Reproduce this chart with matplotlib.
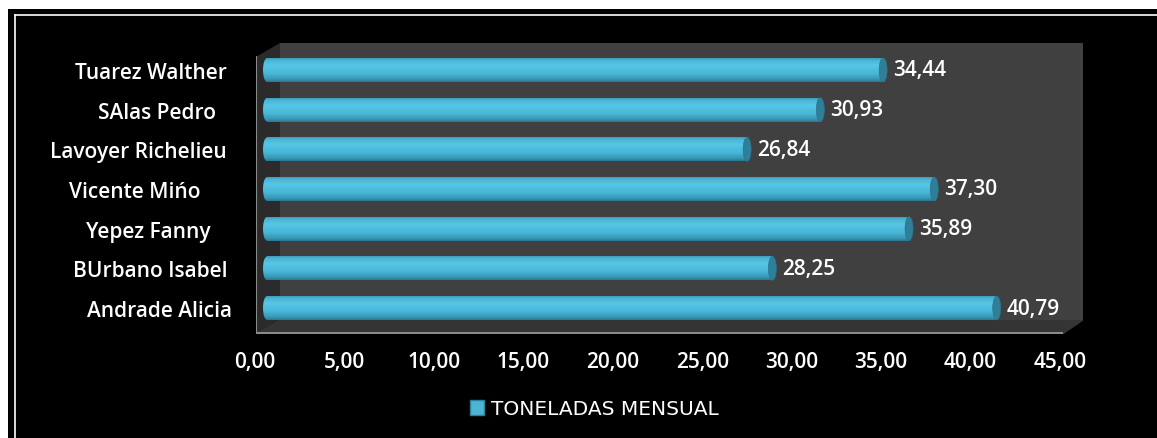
import matplotlib
matplotlib.use("Agg")
import matplotlib.pyplot as plt
import numpy as np
from matplotlib.patches import Rectangle, Polygon, Ellipse, Patch
from matplotlib.colors import LinearSegmentedColormap
from matplotlib.lines import Line2D
import matplotlib.transforms as mtransforms

# ---------------- data ----------------
categories = ["Andrade Alicia", "BUrbano Isabel ", "Yepez Fanny    ", "Vicente Mińo      ",
              "Lavoyer Richelieu ", "SAlas Pedro   ", "Tuarez Walther "]
values = [40.79, 28.25, 35.89, 37.30, 26.84, 30.93, 34.44]
xticks = [0, 5, 10, 15, 20, 25, 30, 35, 40, 45]
xtick_labels = ["0,00", "5,00", "10,00", "15,00", "20,00", "25,00", "30,00", "35,00", "40,00", "45,00"]
series_name = "TONELADAS MENSUAL"

# ---------------- layout ----------------
W, H = 1157, 439
fig = plt.figure(figsize=(W / 100, H / 100), dpi=100)
fig.patch.set_facecolor("white")
plt.rcParams["font.family"] = ["Open Sans", "DejaVu Sans"]
WEIGHT = "semibold"
FS = 15

# black panel with thin white inner border
fig.patches.append(Rectangle((8 / W, -0.01), 1.01, 1 - 10 / H + 0.01, transform=fig.transFigure,
                             facecolor="black", edgecolor="none", zorder=-10))
fig.add_artist(Line2D([15 / W, 15 / W], [0, 1 - 16 / H], color="white", lw=1.2,
                      transform=fig.transFigure))
fig.add_artist(Line2D([15 / W, 1], [1 - 16 / H, 1 - 16 / H], color="white", lw=1.2,
                      transform=fig.transFigure))

AX_L, AX_R, AX_T, AX_B = 256, 1083, 44, 335
ax = fig.add_axes([AX_L / W, 1 - AX_B / H, (AX_R - AX_L) / W, (AX_B - AX_T) / H])
ax.set_facecolor("#404040")
for s in ax.spines.values():
    s.set_visible(False)

scale = 17.89       # px per unit
x0px = 267          # pixel of value 0 (bar start)
spacing = 39.67     # px per category
y_top_bar = 71
y_bot_bar = 309
xlim = ((AX_L - x0px) / scale, (AX_R - x0px) / scale)
ylim = (-(AX_B - y_bot_bar) / spacing, 6 + (y_top_bar - AX_T) / spacing)


def P(x, y):
    return ((x - AX_L) / (AX_R - AX_L), (AX_B - y) / (AX_B - AX_T))


# 3D-ish walls
ax.add_patch(Polygon([P(256, 58), P(280, 44), P(280, 321), P(256, 335)], closed=True,
                     transform=ax.transAxes, facecolor="#2b2b2b", edgecolor="none", zorder=1))
ax.add_patch(Polygon([P(256, 44), P(280, 44), P(256, 58)], closed=True,
                     transform=ax.transAxes, facecolor="black", edgecolor="none", zorder=1))
ax.add_patch(Polygon([P(256, 335), P(280, 321), P(1083, 321), P(1062, 335)], closed=True,
                     transform=ax.transAxes, facecolor="#343434", edgecolor="none", zorder=1))
ax.add_patch(Polygon([P(1062, 335.5), P(1083.5, 335.5), P(1083.5, 321)], closed=True,
                     transform=ax.transAxes, facecolor="black", edgecolor="none", zorder=1))
ax.add_line(Line2D([P(256, 58)[0], P(256, 335)[0]], [P(256, 58)[1], P(256, 335)[1]],
                   transform=ax.transAxes, color="#8a8a8a", lw=1.5, zorder=2))
ax.add_line(Line2D([P(256, 334)[0], P(1062, 334)[0]], [P(256, 334)[1], P(1062, 334)[1]],
                   transform=ax.transAxes, color="#8a8a8a", lw=1.5, zorder=2))

# ---------------- bars ----------------
bar_h = 0.6
ypos = np.arange(len(categories))
bars = ax.barh(ypos, values, height=bar_h, left=0, color="#4bbddd", label=series_name,
               zorder=3, edgecolor="none")

grad_cmap = LinearSegmentedColormap.from_list(
    "cyl", [(0.0, "#2a7893"), (0.12, "#3a98b6"), (0.35, "#48b6d6"),
            (0.7, "#58c6e6"), (0.9, "#4cb6d6"), (1.0, "#3c9ebd")])
grad = np.linspace(0, 1, 64).reshape(-1, 1)
capw = 8 / scale

for b, v, y in zip(bars, values, ypos):
    b.set_alpha(0)
    left_el = Ellipse((0, y), capw, bar_h, facecolor="none", edgecolor="none")
    ax.add_patch(left_el)
    for clip in (b, left_el):
        im = ax.imshow(grad, cmap=grad_cmap, aspect="auto", origin="lower",
                       extent=(-capw, v, y - bar_h / 2, y + bar_h / 2), zorder=3,
                       interpolation="bilinear")
        im.set_clip_path(clip)
    ax.add_patch(Ellipse((v, y), capw, bar_h, facecolor="#2f7f99", edgecolor="#2a7390",
                         lw=0.5, zorder=4))
    ax.annotate(f"{v:.2f}".replace(".", ","), (v, y), xytext=(10, 0),
                textcoords="offset pixels", ha="left", va="center", color="white",
                fontsize=FS, fontweight=WEIGHT, zorder=6)

ax.set_xlim(*xlim)
ax.set_ylim(*ylim)

# ticks
ax.set_xticks(xticks, xtick_labels)
ax.tick_params(axis="x", length=0, pad=12, colors="white", labelsize=FS)
shift = mtransforms.ScaledTranslation(-12 / 100, 0, fig.dpi_scale_trans)
for lab in ax.get_xticklabels():
    lab.set_transform(lab.get_transform() + shift)
    lab.set_fontweight(WEIGHT)
ax.set_yticks(ypos, categories)
ax.tick_params(axis="y", length=0, pad=17, colors="white", labelsize=FS)
for lab in ax.get_yticklabels():
    lab.set_fontweight(WEIGHT)

# legend
fig.legend(handles=[Patch(facecolor="#4bb5d5", edgecolor="#2d7f9a", label=series_name)],
           loc="center", bbox_to_anchor=(594 / W, 1 - 410 / H), frameon=False,
           labelcolor="white", prop={"size": 14.5, "family": ["DejaVu Sans"]},
           handlelength=0.7, handleheight=0.7, handletextpad=0.35)

fig.savefig("out.png", dpi=100, facecolor=fig.get_facecolor())
